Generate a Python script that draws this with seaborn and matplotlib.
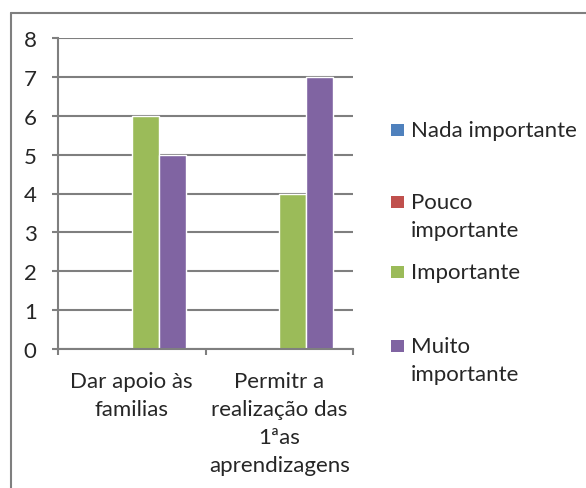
import matplotlib
matplotlib.use('Agg')
import matplotlib.pyplot as plt
import seaborn as sns
import pandas as pd
from matplotlib.patches import Rectangle
from matplotlib.lines import Line2D

categories = ['Dar apoio às\nfamilias', 'Permitr a\nrealização das\n1ªas\naprendizagens']
series = ['Nada importante', 'Pouco importante', 'Importante', 'Muito importante']
legend_labels = ['Nada importante', 'Pouco\nimportante', 'Importante', 'Muito\nimportante']
nada = [0, 0]
pouco = [0, 0]
importante = [6, 4]
muito = [5, 7]
colors = ['#4F81BD', '#C0504D', '#9BBB59', '#8064A2']

rows = []
for s, vals in zip(series, [nada, pouco, importante, muito]):
    for c, v in zip(categories, vals):
        rows.append({'cat': c, 'serie': s, 'valor': v})
df = pd.DataFrame(rows)

sns.set_style('white')
plt.rcParams['font.family'] = ['Lato', 'DejaVu Sans']
GRAY = '#7f7f7f'
FS = 16

fig = plt.figure(figsize=(5.86, 4.89), dpi=100)
ax = fig.add_axes([58 / 586, 1 - 350 / 489, (353 - 58) / 586, (350 - 39) / 489])

sns.barplot(data=df, x='cat', y='valor', hue='serie', hue_order=series,
            palette=colors, width=0.735, saturation=1, ax=ax, legend=False)

ax.set_ylim(0, 8)
ax.set_xlim(-0.5, 1.5)
ax.set_yticks(range(0, 9))
ax.set_xlabel('')
ax.set_ylabel('')
ax.yaxis.grid(True, color=GRAY, linewidth=1.5)
ax.set_axisbelow(True)
for side in ['top', 'right']:
    ax.spines[side].set_visible(False)
for side in ['left', 'bottom']:
    ax.spines[side].set_color(GRAY)
    ax.spines[side].set_linewidth(1.5)

ax.tick_params(axis='y', length=4.3, width=1.5, color=GRAY, pad=11, labelsize=FS, left=True)
ax.tick_params(axis='x', which='major', length=0, pad=16, labelsize=FS)
ax.set_xticks([-0.5, 0.5, 1.5], minor=True)
ax.tick_params(axis='x', which='minor', length=4.3, width=1.5, color=GRAY, bottom=True)
for lbl in ax.get_xticklabels():
    lbl.set_linespacing(1.5)

# legend drawn by hand (Excel style: square aligned to first line)
ys = [131, 203, 273, 347]
for lab, col, y in zip(legend_labels, colors, ys):
    fig.patches.append(Rectangle((391 / 586, 1 - (y + 6) / 489), 13 / 586, 12 / 489,
                                 transform=fig.transFigure, facecolor=col, edgecolor='none'))
    fig.text(411 / 586, 1 - (y - 10) / 489, lab, fontsize=FS, va='top', ha='left',
             linespacing=1.5)

# chart outer border (cut off at right and bottom)
fig.add_artist(Line2D([10.5 / 586, 10.5 / 586], [0, 1 - 13.5 / 489], transform=fig.transFigure,
                      color=GRAY, linewidth=1.5))
fig.add_artist(Line2D([10.5 / 586, 1], [1 - 13.5 / 489, 1 - 13.5 / 489], transform=fig.transFigure,
                      color=GRAY, linewidth=1.5))

fig.savefig('out.png', dpi=100)
